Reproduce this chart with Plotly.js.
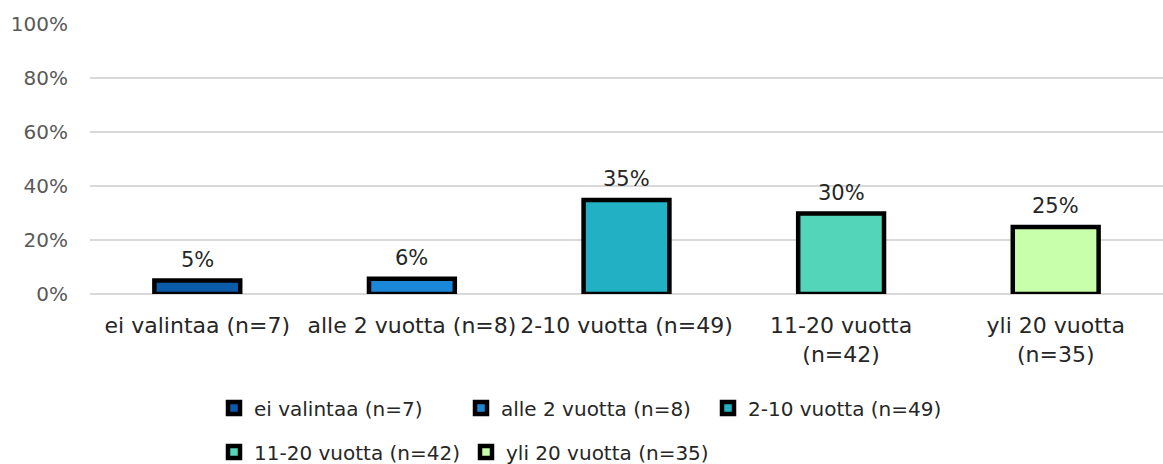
<!DOCTYPE html>
<html>
<head>
<meta charset="utf-8">
<script src="https://cdn.plot.ly/plotly-3.0.1.min.js"></script>
<style>
  html, body { margin: 0; padding: 0; background: #fff; }
  #chart { width: 1163px; height: 464px; }
</style>
</head>
<body>
<div id="chart"></div>
<script>
// categories and shares (%)
const categories = ["ei valintaa (n=7)", "alle 2 vuotta (n=8)", "2-10 vuotta (n=49)", "11-20 vuotta (n=42)", "yli 20 vuotta (n=35)"];
const tickLabels = ["ei valintaa (n=7)", "alle 2 vuotta (n=8)", "2-10 vuotta (n=49)", "11-20 vuotta<br>(n=42)", "yli 20 vuotta<br>(n=35)"];
const shares = [4.96, 5.67, 34.75, 29.79, 24.82];
const yTicks = [0, 20, 40, 60, 80, 100];
const yTickLabels = ["0%", "20%", "40%", "60%", "80%", "100%"];
const colors = ["#0b5bab", "#1b87d9", "#22b1c4", "#52d5b9", "#c8ffaa"];

const FONT = "DejaVu Sans, sans-serif";

const traces = categories.map((name, i) => ({
  type: "bar",
  name: name,
  x: [i],
  y: [shares[i]],
  width: 0.4,
  marker: { color: colors[i], line: { color: "#000", width: 4.5 } },
  hoverinfo: "skip",
  legend: i < 3 ? "legend" : "legend2"
}));

// value labels above the bars
const labels = shares.map((v, i) => ({
  x: i, y: v,
  xref: "x", yref: "y",
  text: Math.round(v) + "%",
  showarrow: false,
  yanchor: "bottom",
  yshift: 7,
  font: { family: FONT, size: 21, color: "#262626" }
}));

const legendBase = {
  orientation: "h",
  xref: "container", yref: "container",
  xanchor: "left", yanchor: "middle",
  font: { family: FONT, size: 20, color: "#262626" },
  bgcolor: "rgba(0,0,0,0)",
  borderwidth: 0,
  entrywidthmode: "pixels"
};

const layout = {
  width: 1163,
  height: 464,
  margin: { l: 90, r: 0, t: 23, b: 170 },
  paper_bgcolor: "#fff",
  plot_bgcolor: "#fff",
  barmode: "overlay",
  showlegend: true,
  font: { family: FONT, size: 20, color: "#404040" },
  annotations: labels,
  xaxis: {
    range: [-0.5, 4.5],
    tickvals: [0, 1, 2, 3, 4],
    ticktext: tickLabels,
    showgrid: false,
    zeroline: false,
    showline: false,
    ticks: "",
    ticklabelstandoff: 16,
    tickfont: { family: FONT, size: 22, color: "#262626" }
  },
  yaxis: {
    range: [0, 100.3],
    tickvals: yTicks,
    ticktext: yTickLabels,
    showgrid: true,
    gridcolor: "#d9d9d9",
    gridwidth: 1.5,
    zeroline: true,
    zerolinecolor: "#d9d9d9",
    zerolinewidth: 1.5,
    showline: false,
    ticks: "",
    ticklabelstandoff: 21,
    tickfont: { family: FONT, size: 20, color: "#595959" }
  },
  legend: Object.assign({}, legendBase, { x: 214 / 1163, y: 1 - 408 / 464, entrywidth: 202 }),
  legend2: Object.assign({}, legendBase, { x: 214 / 1163, y: 1 - 452 / 464, entrywidth: 207 })
};

Plotly.newPlot("chart", traces, layout, { staticPlot: true, displayModeBar: false });
</script>
</body>
</html>
